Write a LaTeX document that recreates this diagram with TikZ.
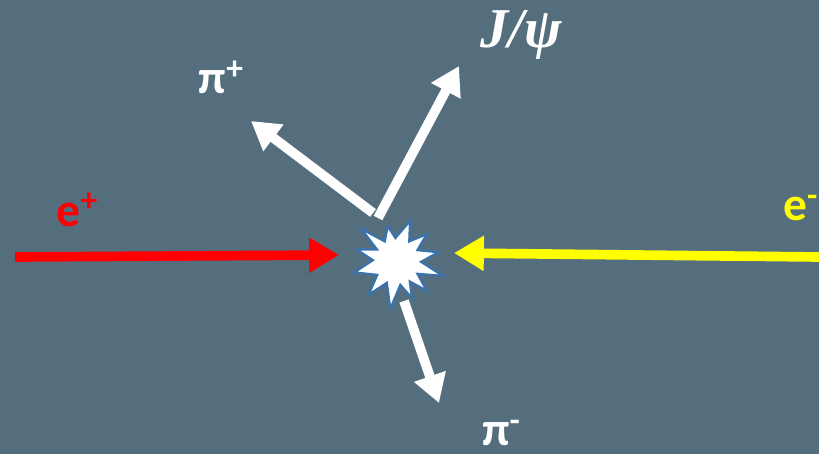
\documentclass[tikz,border=0pt]{standalone}
\usepackage{fontspec}
\setsansfont{Carlito}
\newfontfamily\jfam{Liberation Serif}
\usetikzlibrary{arrows.meta,calc}
\definecolor{bg}{HTML}{556E7E}
\definecolor{burstblue}{HTML}{3A72B0}
\definecolor{eyellow}{HTML}{FFFF00}
\newcommand{\lblfont}{\sffamily\bfseries\fontsize{27}{30}\selectfont}
\newcommand{\jfont}{\jfam\bfseries\itshape\fontsize{32}{36}\selectfont}
\newcommand{\supr}[1]{\raisebox{0.3em}{\fontsize{19}{20}\selectfont #1}}
\begin{document}
\begin{tikzpicture}[x=0.02cm,y=-0.02cm,
  beam/.style={line width=5.5pt,-{Triangle[length=17pt,width=19pt]}},
  prod/.style={line width=5.5pt,white,-{Triangle[length=16pt,width=18pt]}},
  lbl/.style={font=\lblfont,inner sep=0pt}]
\fill[bg] (0,0) rectangle (819,454);
\useasboundingbox (0,0) rectangle (819,454);
% coordinates
\coordinate (ebeg) at (15,257);
\coordinate (etip) at (339,255);
\coordinate (fbeg) at (819,257);
\coordinate (ftip) at (454,253);
\coordinate (c) at (397,261);
\coordinate (jtail) at (378,218);
\coordinate (jtip) at (459,66);
\coordinate (ptail) at (373,213);
\coordinate (ptip) at (251,121);
\coordinate (mtail) at (404,301);
\coordinate (mtip) at (439,403);
% beams
\draw[beam,red] (ebeg) -- (etip);
\draw[beam,eyellow] (fbeg) -- (ftip);
% products
\draw[prod] (jtail) -- (jtip);
\draw[prod] (ptail) -- (ptip);
\draw[prod] (mtail) -- (mtip);
% burst
\draw[burstblue,line width=1.2pt,fill=white,line join=miter]
  ($(c)+(-72:42)$) -- ($(c)+(-58:23)$) -- ($(c)+(-42:40)$) -- ($(c)+(-28:23)$)
  -- ($(c)+(-12:42)$) -- ($(c)+(2:24)$) -- ($(c)+(18:48)$) -- ($(c)+(32:24)$)
  -- ($(c)+(45:42)$) -- ($(c)+(58:24)$) -- ($(c)+(68:40)$) -- ($(c)+(82:24)$)
  -- ($(c)+(98:48)$) -- ($(c)+(115:24)$) -- ($(c)+(130:44)$) -- ($(c)+(145:24)$)
  -- ($(c)+(165:44)$) -- ($(c)+(182:24)$) -- ($(c)+(196:42)$) -- ($(c)+(210:23)$)
  -- ($(c)+(222:48)$) -- ($(c)+(238:23)$) -- ($(c)+(255:36)$) -- ($(c)+(266:23)$) -- cycle;
% labels
\node[lbl,red] (ep) at (77,210) {e\supr{+}};
\node[lbl,eyellow,anchor=west] (em) at (783,208) {e\supr{-}};
\node[lbl,white] (pp) at (221,77) {π\supr{+}};
\node[lbl,white] (pm) at (501,433) {π\supr{-}};
\node[white,inner sep=0pt,font=\jfont] (jp) at (521,35) {J/ψ};
\end{tikzpicture}
\end{document}
